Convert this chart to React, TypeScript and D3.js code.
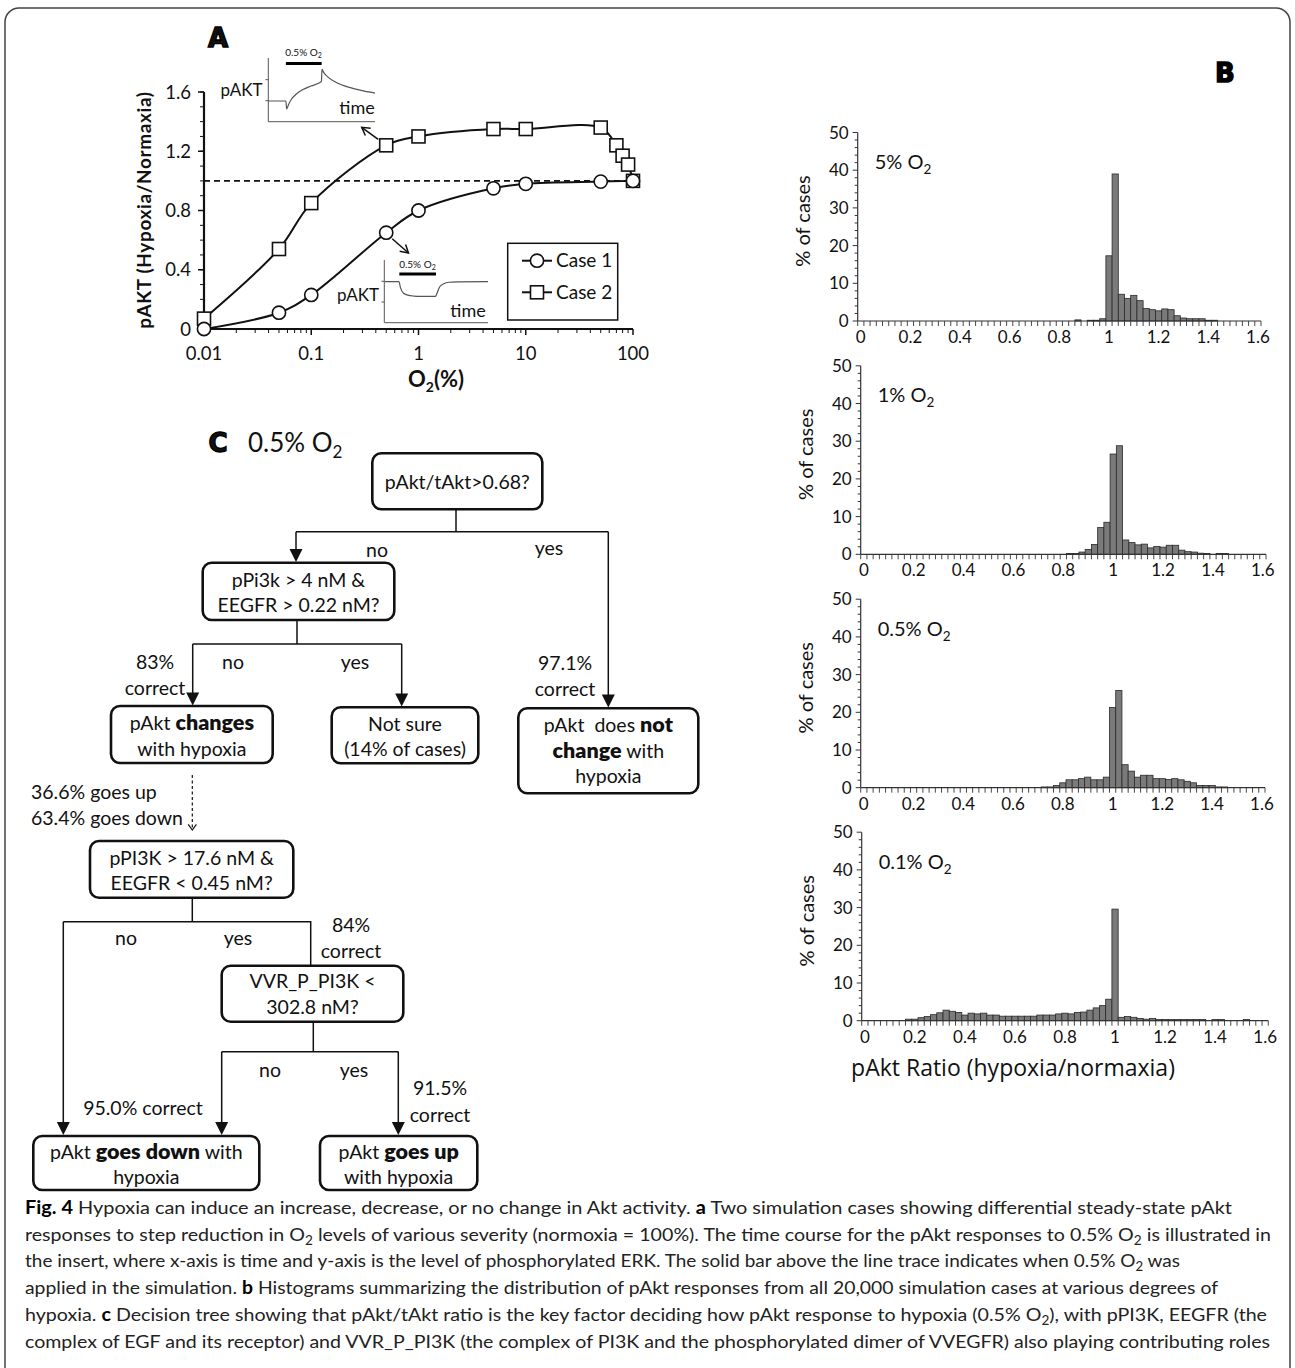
import React from 'react';
import * as d3 from 'd3';

// ---------- Panel A data ----------
const O2_CASE1 = [0.01, 0.05, 0.1, 0.5, 1, 5, 10, 50, 100];
const CASE1 = [0, 0.11, 0.23, 0.65, 0.8, 0.95, 0.98, 0.995, 1.0];
const O2_CASE2 = [0.01, 0.05, 0.1, 0.5, 1, 5, 10, 50, 70, 80, 90, 100];
const CASE2 = [0.07, 0.54, 0.85, 1.24, 1.3, 1.35, 1.35, 1.36, 1.24, 1.17, 1.11, 1.0];
const A_Y_TICKS = [0, 0.4, 0.8, 1.2, 1.6];
const A_X_TICKS = [0.01, 0.1, 1, 10, 100];
const A_X_LABELS = ['0.01', '0.1', '1', '10', '100'];

// inset traces (time 0..100, relative level 0..1)
const INSET1_T = [0, 16.5, 17.2, 19, 22, 26, 32, 40, 49.8, 50.3, 52, 56, 62, 70, 80, 90, 100];
const INSET1_V = [0.325, 0.325, 0.2, 0.27, 0.36, 0.43, 0.5, 0.56, 0.63, 0.82, 0.77, 0.7, 0.63, 0.57, 0.52, 0.48, 0.45];
const INSET2_T = [0, 13.5, 15, 18, 22, 28, 35, 49, 50.5, 53, 57, 62, 70, 100];
const INSET2_V = [0.654, 0.654, 0.56, 0.47, 0.44, 0.425, 0.42, 0.42, 0.47, 0.57, 0.62, 0.645, 0.652, 0.654];
const INSET_BAR1 = [16.5, 50];
const INSET_BAR2 = [13.9, 49.5];

// ---------- Panel B data (bins 0, 0.025, ..., 1.6) ----------
const HIST_5 = [
  0, 0, 0, 0, 0, 0, 0, 0, 0, 0, 0, 0, 0, 0, 0, 0, 0, 0, 0, 0,
  0, 0, 0, 0, 0, 0, 0, 0, 0, 0, 0, 0, 0, 0, 0, 0.3, 0, 0.2, 0.2, 0.6,
  17.3, 39, 7.1, 6.0, 6.8, 5.4, 3.3, 3.0, 2.7, 3.2, 3.0, 1.4, 0.8, 0.6, 0.6, 0.6, 0.2, 0.2, 0, 0,
  0, 0, 0, 0, 0,
];
const HIST_1 = [
  0, 0, 0, 0, 0, 0, 0, 0, 0, 0, 0, 0, 0, 0, 0, 0, 0, 0, 0, 0,
  0, 0, 0, 0, 0, 0, 0, 0, 0, 0, 0, 0, 0, 0.2, 0.2, 0.6, 1.3, 2.6, 7.1, 8.5,
  26.6, 28.8, 3.8, 3.1, 2.5, 2.7, 1.7, 2.1, 1.9, 2.4, 2.4, 1.1, 0.7, 0.6, 0.3, 0.2, 0, 0.2, 0.2, 0,
  0, 0, 0, 0, 0,
];
const HIST_05 = [
  0, 0, 0, 0, 0, 0, 0, 0, 0, 0, 0, 0, 0, 0, 0, 0, 0, 0, 0, 0,
  0, 0, 0, 0, 0, 0, 0, 0, 0, 0.2, 0.2, 0.6, 1.3, 2.1, 2.1, 2.4, 2.8, 2.1, 2.1, 2.8,
  21.3, 25.8, 6.1, 4.4, 2.8, 3.3, 3.3, 2.4, 2.4, 2.2, 2.4, 2.1, 1.7, 1.3, 0.6, 0.6, 0.6, 0.2, 0.2, 0,
  0, 0, 0, 0, 0,
];
const HIST_01 = [
  0, 0, 0, 0, 0, 0, 0, 0.4, 0.4, 0.8, 1.1, 1.6, 2.1, 2.8, 2.5, 2.2, 1.5, 2.0, 1.8, 2.0,
  1.5, 1.5, 1.2, 1.2, 1.2, 1.2, 1.2, 1.2, 1.5, 1.5, 1.5, 1.8, 2.0, 1.8, 2.2, 2.3, 2.8, 3.4, 4.0, 5.7,
  29.6, 0.9, 1.1, 0.9, 0.6, 0.4, 0.6, 0.3, 0.3, 0.3, 0.3, 0.3, 0.3, 0.3, 0.3, 0, 0.3, 0.3, 0, 0,
  0, 0.3, 0, 0, 0,
];
const HIST_LEVELS = ['5%', '1%', '0.5%', '0.1%'];
const HIST_SERIES = [HIST_5, HIST_1, HIST_05, HIST_01];
const HIST_X_LABELS = ['0', '0.2', '0.4', '0.6', '0.8', '1', '1.2', '1.4', '1.6'];
const HIST_Y_TICKS = [0, 10, 20, 30, 40, 50];

const FONT = "Lato, 'Open Sans', 'DejaVu Sans', sans-serif";
const HEAVY = "'DejaVu Sans', 'Liberation Sans', sans-serif";
const INK = '#111';

function openHead(sx: number, sy: number, tx: number, ty: number, len = 9, ang = Math.PI / 6) {
  const a = Math.atan2(ty - sy, tx - sx);
  const p1 = [tx - len * Math.cos(a - ang), ty - len * Math.sin(a - ang)];
  const p2 = [tx - len * Math.cos(a + ang), ty - len * Math.sin(a + ang)];
  return `M${p1[0]},${p1[1]}L${tx},${ty}L${p2[0]},${p2[1]}`;
}

function PanelA() {
  const x = d3.scaleLog().domain([0.01, 100]).range([204, 633]);
  const y = d3.scaleLinear().domain([0, 1.6]).range([329, 92]);
  const line = d3
    .line<[number, number]>()
    .x((d) => x(d[0]))
    .y((d) => y(d[1]))
    .curve(d3.curveCatmullRom.alpha(0.5));
  const c1 = O2_CASE1.map((o, i) => [o, CASE1[i]] as [number, number]);
  const c2 = O2_CASE2.map((o, i) => [o, CASE2[i]] as [number, number]);
  const minorX = x.ticks().filter((t) => !A_X_TICKS.some((m) => Math.abs(m - t) < 1e-9));
  const minorY = d3.range(0, 1.61, 0.1);

  // insets
  const i1x = d3.scaleLinear().domain([0, 100]).range([268.3, 375]);
  const i1y = d3.scaleLinear().domain([0, 1]).range([121.7, 58]);
  const i2x = d3.scaleLinear().domain([0, 100]).range([385, 488]);
  const i2y = d3.scaleLinear().domain([0, 1]).range([322.7, 260]);
  const trace = (xs: any, ys: any, T: number[], V: number[]) =>
    d3
      .line<number>()
      .x((_, i) => xs(T[i]))
      .y((v) => ys(v))
      .curve(d3.curveMonotoneX)(V) as string;

  // arrows from data points
  const s1x = x(0.5) - 8, s1y = y(1.24) - 6, t1x = 361.7, t1y = 127.3;
  const s2x = x(0.5) + 6, s2y = y(0.65) + 6, t2x = 408.5, t2y = 253;

  return (
    <g fontFamily={FONT} fill={INK}>
      <text x={218} y={47} fontFamily={HEAVY} fontWeight={900} fontSize={26} textAnchor="middle" stroke="#000" strokeWidth={1.4}>A</text>
      {/* axes */}
      <line x1={204} x2={204} y1={92} y2={329} stroke={INK} strokeWidth={2.2} />
      <line x1={204} x2={633} y1={329} y2={329} stroke={INK} strokeWidth={2.2} />
      {minorY.map((v, i) => (
        <line key={'my' + i} x1={204} x2={200} y1={y(v)} y2={y(v)} stroke={INK} strokeWidth={1} />
      ))}
      {A_Y_TICKS.map((v) => (
        <g key={'yt' + v}>
          <line x1={204} x2={198} y1={y(v)} y2={y(v)} stroke={INK} strokeWidth={1.5} />
          <text x={191} y={y(v)} dy="0.36em" textAnchor="end" fontSize={18.5}>{v === 0 ? '0' : v.toFixed(1)}</text>
        </g>
      ))}
      {minorX.map((v, i) => (
        <line key={'mx' + i} x1={x(v)} x2={x(v)} y1={329} y2={333} stroke={INK} strokeWidth={1} />
      ))}
      {A_X_TICKS.map((v, i) => (
        <g key={'xt' + v}>
          <line x1={x(v)} x2={x(v)} y1={329} y2={335} stroke={INK} strokeWidth={1.5} />
          <text x={x(v)} y={360} textAnchor="middle" fontSize={18.5}>{A_X_LABELS[i]}</text>
        </g>
      ))}
      <text x={436} y={387} textAnchor="middle" fontSize={22} fontWeight={700}>
        O<tspan fontSize={14} dy={5}>2</tspan><tspan dy={-5}>(%)</tspan>
      </text>
      <text transform="translate(151,210) rotate(-90)" textAnchor="middle" fontSize={19} fontWeight={700} letterSpacing={0.6}>pAKT (Hypoxia/Normaxia)</text>

      {/* reference line */}
      <line x1={x(0.01)} x2={x(100)} y1={y(1)} y2={y(1)} stroke={INK} strokeWidth={1.8} strokeDasharray="6,4" />

      {/* curves */}
      <path d={line(c2) as string} fill="none" stroke={INK} strokeWidth={2} />
      <path d={line(c1) as string} fill="none" stroke={INK} strokeWidth={2} />
      {c2.map((d, i) => (
        <rect key={'s' + i} x={x(d[0]) - 6.5} y={y(d[1]) - 6.5} width={13} height={13} fill="#fff" stroke={INK} strokeWidth={1.6} />
      ))}
      {c1.map((d, i) => (
        <circle key={'c' + i} cx={x(d[0])} cy={y(d[1])} r={6.6} fill="#fff" stroke={INK} strokeWidth={1.6} />
      ))}

      {/* arrows to insets */}
      <line x1={s1x} y1={s1y} x2={t1x} y2={t1y} stroke={INK} strokeWidth={1.5} />
      <path d={openHead(s1x, s1y, t1x, t1y)} fill="none" stroke={INK} strokeWidth={1.5} />
      <line x1={s2x} y1={s2y} x2={t2x} y2={t2y} stroke={INK} strokeWidth={1.5} />
      <path d={openHead(s2x, s2y, t2x, t2y)} fill="none" stroke={INK} strokeWidth={1.5} />

      {/* inset 1 */}
      <line x1={268.3} x2={268.3} y1={58} y2={121.7} stroke="#555" strokeWidth={1} />
      <line x1={268.3} x2={375} y1={121.7} y2={121.7} stroke="#555" strokeWidth={1} />
      {[0.33, 0.66].map((v) => (
        <line key={'i1' + v} x1={265.5} x2={268.3} y1={i1y(v)} y2={i1y(v)} stroke="#555" strokeWidth={1} />
      ))}
      <path d={trace(i1x, i1y, INSET1_T, INSET1_V)} fill="none" stroke="#555" strokeWidth={1.2} />
      <line x1={i1x(INSET_BAR1[0])} x2={i1x(INSET_BAR1[1])} y1={63.5} y2={63.5} stroke="#000" strokeWidth={3} />
      <text x={i1x(33)} y={56} textAnchor="middle" fontSize={10}>0.5% O<tspan fontSize={7} dy={2}>2</tspan></text>
      <text x={241.5} y={96} textAnchor="middle" fontSize={17}>pAKT</text>
      <text x={357} y={114} textAnchor="middle" fontSize={18}>time</text>

      {/* inset 2 */}
      <line x1={384.3} x2={384.3} y1={260} y2={322.7} stroke="#555" strokeWidth={1} />
      <line x1={384.3} x2={488} y1={322.7} y2={322.7} stroke="#555" strokeWidth={1} />
      {[0.33, 0.66].map((v) => (
        <line key={'i2' + v} x1={381.5} x2={384.3} y1={i2y(v)} y2={i2y(v)} stroke="#555" strokeWidth={1} />
      ))}
      <path d={trace(i2x, i2y, INSET2_T, INSET2_V)} fill="none" stroke="#555" strokeWidth={1.2} />
      <line x1={i2x(INSET_BAR2[0])} x2={i2x(INSET_BAR2[1])} y1={274} y2={274} stroke="#000" strokeWidth={3} />
      <text x={i2x(31.5)} y={268} textAnchor="middle" fontSize={10}>0.5% O<tspan fontSize={7} dy={2}>2</tspan></text>
      <text x={358} y={301} textAnchor="middle" fontSize={17}>pAKT</text>
      <text x={468} y={317} textAnchor="middle" fontSize={18}>time</text>

      {/* legend */}
      <rect x={507.7} y={243.3} width={110} height={76.7} fill="#fff" stroke={INK} strokeWidth={1.5} />
      <line x1={522} x2={552} y1={260.7} y2={260.7} stroke={INK} strokeWidth={2} />
      <circle cx={537} cy={260.7} r={6.6} fill="#fff" stroke={INK} strokeWidth={1.6} />
      <text x={556} y={260.7} dy="0.35em" fontSize={19}>Case 1</text>
      <line x1={522} x2={552} y1={292.3} y2={292.3} stroke={INK} strokeWidth={2} />
      <rect x={530.5} y={285.8} width={13} height={13} fill="#fff" stroke={INK} strokeWidth={1.6} />
      <text x={556} y={292.3} dy="0.35em" fontSize={19}>Case 2</text>
    </g>
  );
}

function Histogram({ data, level, x0, x1, y0 }: { data: number[]; level: string; x0: number; x1: number; y0: number }) {
  const xb = d3.scaleBand<number>().domain(d3.range(data.length)).range([x0, x1]).padding(0);
  const y = d3.scaleLinear().domain([0, 50]).range([y0, y0 - 188.5]);
  const bw = xb.bandwidth();
  return (
    <g fontFamily={FONT} fill={INK}>
      {data.map((v, i) =>
        v > 0 ? (
          <rect key={i} x={xb(i)} y={y(v)} width={bw} height={y(0) - y(v)} fill="#7a7a7a" stroke="#2a2a2a" strokeWidth={0.8} />
        ) : null
      )}
      <line x1={x0} x2={x0} y1={y(0)} y2={y(50)} stroke="#333" strokeWidth={1.2} />
      {d3.range(0, 51, 2).map((v) => (
        <line key={'m' + v} x1={x0} x2={x0 - (v % 10 === 0 ? 5 : 3)} y1={y(v)} y2={y(v)} stroke="#333" strokeWidth={1} />
      ))}
      {HIST_Y_TICKS.map((v) => (
        <text key={'y' + v} x={x0 - 9} y={y(v)} dy="0.36em" textAnchor="end" fontSize={17}>{v}</text>
      ))}
      <line x1={x0} x2={x1} y1={y(0)} y2={y(0)} stroke="#333" strokeWidth={1.2} />
      {d3.range(data.length + 1).map((i) => (
        <line key={'t' + i} x1={x0 + i * bw} x2={x0 + i * bw} y1={y(0)} y2={y(0) + 5} stroke="#333" strokeWidth={0.9} />
      ))}
      {HIST_X_LABELS.map((l, k) => (
        <text key={'x' + l} x={(xb(k * 8) as number) + bw / 2} y={y(0) + 22} textAnchor="middle" fontSize={17}>{l}</text>
      ))}
      <text transform={`translate(${x0 - 48},${y0 - 100}) rotate(-90)`} textAnchor="middle" fontSize={20}>% of cases</text>
      <text x={x0 + 17} y={y0 - 152} fontSize={20}>
        {level} O<tspan fontSize={13.5} dy={5}>2</tspan>
      </text>
    </g>
  );
}

function PanelB() {
  const geo = [
    { x0: 857.7, x1: 1261, y0: 321 },
    { x0: 860.7, x1: 1266, y0: 554.3 },
    { x0: 860.7, x1: 1265, y0: 787.7 },
    { x0: 861.7, x1: 1268.3, y0: 1020.7 },
  ];
  return (
    <g>
      <text x={1225} y={82} fontFamily={HEAVY} fontWeight={900} fontSize={26} textAnchor="middle" stroke="#000" strokeWidth={1.4}>B</text>
      {HIST_SERIES.map((d, i) => (
        <Histogram key={i} data={d} level={HIST_LEVELS[i]} {...geo[i]} />
      ))}
      <text x={1013} y={1076} textAnchor="middle" fontFamily="'Open Sans', sans-serif" fontSize={23} fill={INK}>pAkt Ratio (hypoxia/normaxia)</text>
    </g>
  );
}

type Seg = { t: string; b?: boolean };
type Box = { x: number; y: number; w: number; h: number; lines: { dy: number; segs: Seg[] }[] };

const BOXES: Box[] = [
  { x: 372.3, y: 453.3, w: 170, h: 56, lines: [{ dy: 29, segs: [{ t: 'pAkt/tAkt>0.68?' }] }] },
  { x: 202.7, y: 562.7, w: 191.6, h: 57.3, lines: [{ dy: 17.5, segs: [{ t: 'pPi3k > 4 nM &' }] }, { dy: 42.5, segs: [{ t: 'EEGFR > 0.22 nM?' }] }] },
  { x: 111, y: 706, w: 161.7, h: 57, lines: [{ dy: 17.5, segs: [{ t: 'pAkt ' }, { t: 'changes', b: true }] }, { dy: 43, segs: [{ t: 'with hypoxia' }] }] },
  { x: 331.7, y: 707.3, w: 146.6, h: 56, lines: [{ dy: 16.5, segs: [{ t: 'Not sure' }] }, { dy: 42, segs: [{ t: '(14% of cases)' }] }] },
  { x: 518.3, y: 708.3, w: 180, h: 85, lines: [{ dy: 17, segs: [{ t: 'pAkt  does ' }, { t: 'not', b: true }] }, { dy: 43, segs: [{ t: 'change', b: true }, { t: ' with' }] }, { dy: 68, segs: [{ t: 'hypoxia' }] }] },
  { x: 90, y: 841, w: 203.3, h: 56.7, lines: [{ dy: 16.7, segs: [{ t: 'pPI3K > 17.6 nM &' }] }, { dy: 42.3, segs: [{ t: 'EEGFR < 0.45 nM?' }] }] },
  { x: 221.7, y: 965.7, w: 181.6, h: 56, lines: [{ dy: 15, segs: [{ t: 'VVR_P_PI3K <' }] }, { dy: 41.6, segs: [{ t: '302.8 nM?' }] }] },
  { x: 33.3, y: 1136, w: 226, h: 54, lines: [{ dy: 15.7, segs: [{ t: 'pAkt ' }, { t: 'goes down', b: true }, { t: ' with' }] }, { dy: 41.3, segs: [{ t: 'hypoxia' }] }] },
  { x: 320, y: 1136, w: 157.3, h: 54, lines: [{ dy: 15.7, segs: [{ t: 'pAkt ' }, { t: 'goes up', b: true }] }, { dy: 41.3, segs: [{ t: 'with hypoxia' }] }] },
];

const LABELS: { x: number; y: number; t: string; a?: string }[] = [
  { x: 377, y: 550, t: 'no' },
  { x: 549, y: 548, t: 'yes' },
  { x: 233, y: 662, t: 'no' },
  { x: 355, y: 662, t: 'yes' },
  { x: 155, y: 662, t: '83%' },
  { x: 155, y: 688, t: 'correct' },
  { x: 565, y: 663, t: '97.1%' },
  { x: 565, y: 689, t: 'correct' },
  { x: 31, y: 792, t: '36.6% goes up', a: 'start' },
  { x: 31, y: 818, t: '63.4% goes down', a: 'start' },
  { x: 126, y: 938, t: 'no' },
  { x: 238, y: 938, t: 'yes' },
  { x: 351, y: 925, t: '84%' },
  { x: 351, y: 951, t: 'correct' },
  { x: 270, y: 1070, t: 'no' },
  { x: 354, y: 1070, t: 'yes' },
  { x: 143, y: 1108, t: '95.0% correct' },
  { x: 440, y: 1088, t: '91.5%' },
  { x: 440, y: 1115, t: 'correct' },
];

function Arrow({ x, y1, y2 }: { x: number; y1: number; y2: number }) {
  return (
    <g>
      <line x1={x} x2={x} y1={y1} y2={y2 - 12} stroke={INK} strokeWidth={1.5} />
      <path d={`M${x - 6.5},${y2 - 13}L${x + 6.5},${y2 - 13}L${x},${y2}Z`} fill={INK} />
    </g>
  );
}

function PanelC() {
  const L = (pts: number[][]) => 'M' + pts.map((p) => p.join(',')).join('L');
  return (
    <g fontFamily={FONT} fill={INK}>
      <text x={218} y={452} fontFamily={HEAVY} fontWeight={900} fontSize={26} textAnchor="middle" stroke="#000" strokeWidth={1.4}>C</text>
      <text x={248} y={452} fontSize={26}>
        0.5% O<tspan fontSize={17} dy={6}>2</tspan>
      </text>
      {/* connectors */}
      <path d={L([[456, 509.3], [456, 531.7]])} stroke={INK} strokeWidth={1.5} fill="none" />
      <path d={L([[296, 531.7], [608.3, 531.7]])} stroke={INK} strokeWidth={1.5} fill="none" />
      <Arrow x={296} y1={531.7} y2={562} />
      <Arrow x={608.3} y1={531.7} y2={707.5} />
      <path d={L([[297, 620], [297, 644]])} stroke={INK} strokeWidth={1.5} fill="none" />
      <path d={L([[192.7, 644], [401.7, 644]])} stroke={INK} strokeWidth={1.5} fill="none" />
      <Arrow x={192.7} y1={644} y2={705.5} />
      <Arrow x={401.7} y1={644} y2={706.5} />
      <line x1={192.3} x2={192.3} y1={775} y2={829} stroke={INK} strokeWidth={1.2} strokeDasharray="3,2.5" />
      <path d={openHead(192.3, 800, 192.3, 830, 7, Math.PI / 5)} fill="none" stroke={INK} strokeWidth={1.2} />
      <path d={L([[192.3, 897.7], [192.3, 921.7]])} stroke={INK} strokeWidth={1.5} fill="none" />
      <path d={L([[63.3, 921.7], [310.7, 921.7], [310.7, 965.7]])} stroke={INK} strokeWidth={1.5} fill="none" />
      <Arrow x={63.3} y1={921.7} y2={1135} />
      <path d={L([[313.3, 1021.7], [313.3, 1051.7]])} stroke={INK} strokeWidth={1.5} fill="none" />
      <path d={L([[221.7, 1051.7], [398.3, 1051.7]])} stroke={INK} strokeWidth={1.5} fill="none" />
      <Arrow x={221.7} y1={1051.7} y2={1135} />
      <Arrow x={398.3} y1={1051.7} y2={1135} />
      {/* boxes */}
      {BOXES.map((b, i) => (
        <g key={i}>
          <rect x={b.x} y={b.y} width={b.w} height={b.h} rx={9} fill="#fff" stroke={INK} strokeWidth={2.6} />
          {b.lines.map((ln, j) => (
            <text key={j} x={b.x + b.w / 2} y={b.y + ln.dy} dy="0.35em" textAnchor="middle" fontSize={19.5} xmlSpace="preserve">
              {ln.segs.map((s, k) => (
                <tspan key={k} fontWeight={s.b ? 800 : 400} fontSize={s.b ? 21.5 : 19.5}>{s.t}</tspan>
              ))}
            </text>
          ))}
        </g>
      ))}
      {LABELS.map((l, i) => (
        <text key={i} x={l.x} y={l.y} dy="0.35em" textAnchor={(l.a as any) || 'middle'} fontSize={19.5}>{l.t}</text>
      ))}
    </g>
  );
}

type CSeg = { t: string; b?: boolean; sub?: boolean };
const CAPTION: { segs: CSeg[]; end: number }[] = [
  { end: 1232, segs: [{ t: 'Fig. 4', b: true }, { t: ' Hypoxia can induce an increase, decrease, or no change in Akt activity. ' }, { t: 'a', b: true }, { t: ' Two simulation cases showing differential steady-state pAkt' }] },
  { end: 1271, segs: [{ t: 'responses to step reduction in O' }, { t: '2', sub: true }, { t: ' levels of various severity (normoxia = 100%). The time course for the pAkt responses to 0.5% O' }, { t: '2', sub: true }, { t: ' is illustrated in' }] },
  { end: 1180, segs: [{ t: 'the insert, where x-axis is time and y-axis is the level of phosphorylated ERK. The solid bar above the line trace indicates when 0.5% O' }, { t: '2', sub: true }, { t: ' was' }] },
  { end: 1218, segs: [{ t: 'applied in the simulation. ' }, { t: 'b', b: true }, { t: ' Histograms summarizing the distribution of pAkt responses from all 20,000 simulation cases at various degrees of' }] },
  { end: 1267, segs: [{ t: 'hypoxia. ' }, { t: 'c', b: true }, { t: ' Decision tree showing that pAkt/tAkt ratio is the key factor deciding how pAkt response to hypoxia (0.5% O' }, { t: '2', sub: true }, { t: '), with pPI3K, EEGFR (the' }] },
  { end: 1270, segs: [{ t: 'complex of EGF and its receptor) and VVR_P_PI3K (the complex of PI3K and the phosphorylated dimer of VVEGFR) also playing contributing roles' }] },
];

function Caption() {
  const x0 = 25;
  return (
    <g fontFamily="Lato, 'Open Sans', sans-serif" fill="#222">
      {CAPTION.map((ln, i) => {
        let shifted = false;
        return (
          <text key={i} x={x0} y={1214 + i * 26.7} fontSize={18} textLength={ln.end - x0} lengthAdjust="spacingAndGlyphs" xmlSpace="preserve">
            {ln.segs.map((s, k) => {
              let dy: number | undefined;
              if (s.sub) {
                dy = 4;
                shifted = true;
              } else if (shifted) {
                dy = -4;
                shifted = false;
              }
              return (
                <tspan key={k} dy={dy} fontWeight={s.b ? 700 : 400} fill={s.b ? '#000' : '#222'} fontSize={s.sub ? 12.5 : 18}>{s.t}</tspan>
              );
            })}
          </text>
        );
      })}
    </g>
  );
}

export default function App() {
  return (
    <svg width={1295} height={1368} viewBox="0 0 1295 1368" style={{ position: 'absolute', left: 0, top: 0, background: '#fff' }}>
      <rect x={0} y={0} width={1295} height={1368} fill="#fff" />
      <rect x={5} y={8} width={1285} height={1420} rx={14} fill="none" stroke="#444" strokeWidth={1.5} />
      <PanelA />
      <PanelB />
      <PanelC />
      <Caption />
    </svg>
  );
}
